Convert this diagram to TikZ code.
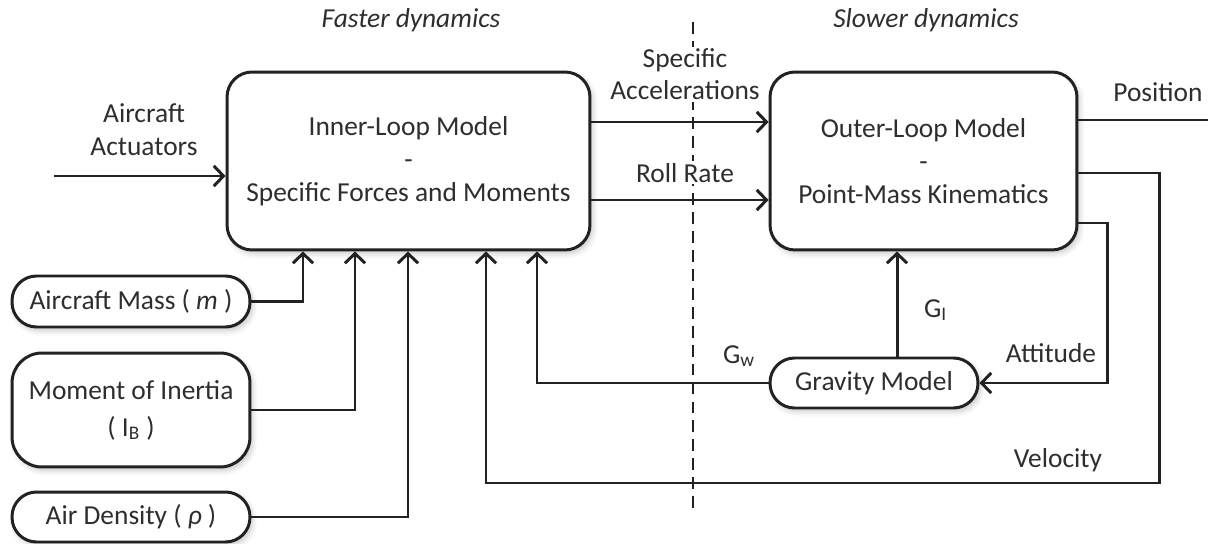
\documentclass[tikz,border=0pt]{standalone}
\usepackage{fontspec}
\setmainfont{Carlito}
\usetikzlibrary{arrows.meta,shadows.blur}
\definecolor{ink}{HTML}{222222}
\definecolor{txt}{HTML}{2E2E2E}
\begin{document}
\begin{tikzpicture}[x=0.02cm,y=-0.02cm,
  font=\fontsize{15.6}{18.8}\selectfont,
  every node/.style={text=txt},
  conn/.style={draw=ink,line width=1.7pt},
  arr/.style={conn,-{Straight Barb[length=5.5pt,width=11.5pt,line width=1.7pt]}},
  block/.style={draw=ink,line width=1.7pt,fill=white,rectangle,inner sep=0pt,align=center,
    blur shadow={shadow xshift=1.5pt,shadow yshift=-2pt,shadow opacity=22,shadow blur radius=3pt}},
  lbl/.style={anchor=base,inner sep=1pt},
  wlbl/.style={lbl,fill=white}]
\useasboundingbox (0,0) rectangle (1211,544);

% region divider
\draw[ink,line width=1.3pt,dash pattern=on 6.8pt off 4pt] (693,22) -- (693,508);

% blocks
\node[block,minimum width=7.26cm,minimum height=3.56cm,rounded corners=0.5cm] (inner) at (408.5,161)
  {Inner-Loop Model\\-\\Specific Forces and Moments};
\node[block,minimum width=6.14cm,minimum height=3.56cm,rounded corners=0.5cm] (outer) at (923.5,161)
  {Outer-Loop Model\\-\\Point-Mass Kinematics};
\node[block,minimum width=4.16cm,minimum height=1.0cm,rounded corners=0.49cm] (grav) at (874,383)
  {Gravity Model};
\node[block,minimum width=4.76cm,minimum height=1.02cm,rounded corners=0.49cm] (mass) at (131,301.5)
  {Aircraft Mass ( \textit{m} )};
\node[block,minimum width=4.76cm,minimum height=2.28cm,rounded corners=0.6cm,
  font=\fontsize{15.6}{21}\selectfont] (inertia) at (131,410)
  {Moment of Inertia\\( I\textsubscript{B} )};
\node[block,minimum width=4.76cm,minimum height=1.0cm,rounded corners=0.49cm] (dens) at (131,517)
  {Air Density ( \textit{ρ} )};

% section headings
\node[lbl,font=\fontsize{15.6}{18.8}\selectfont\itshape] (fast) at (411,28) {Faster dynamics};
\node[lbl,font=\fontsize{15.6}{18.8}\selectfont\itshape] (slow) at (926,28) {Slower dynamics};

% signal labels
\node[wlbl] (sa1) at (685,68) {Specific};
\node[wlbl] (sa2) at (685,100) {Accelerations};
\node[wlbl] (roll) at (685,182) {Roll Rate};
\node[lbl] (posl) at (1158,102) {Position};
\node[lbl] (act1) at (144,123) {Aircraft};
\node[lbl] (act2) at (144,155) {Actuators};
\node[lbl,anchor=base west] (gil) at (922,317) {G\textsubscript{I}};
\node[lbl,anchor=base west] (gwl) at (721,363) {G\textsubscript{w}};
\node[lbl] (attl) at (1051,362) {Attitude};
\node[lbl] (vell) at (1058,467) {Velocity};

% connectors
\coordinate (actin) at (54,176);
\coordinate (posout) at (1208,120);
\draw[arr] (actin) -- (actin -| inner.west);
\draw[arr] (inner.east |- 0,122) -- (outer.west |- 0,122);
\draw[arr] (inner.east |- 0,200) -- (outer.west |- 0,200);
\draw[conn] (outer.east |- posout) -- (posout);
\draw[arr] (outer.east |- 0,173) -- (1159,173) -- (1159,483) -- (486,483) -- (486,0 |- inner.south);
\draw[arr] (outer.east |- 0,223) -- (1107,223) -- (1107,383) -- (grav.east);
\draw[arr] (897,0 |- grav.north) -- (897,0 |- outer.south);
\draw[arr] (grav.west) -- (537,383) -- (537,0 |- inner.south);
\draw[arr] (mass.east) -| (303,0 |- inner.south);
\draw[arr] (inertia.east) -| (355,0 |- inner.south);
\draw[arr] (dens.east) -| (408,0 |- inner.south);
\end{tikzpicture}
\end{document}
